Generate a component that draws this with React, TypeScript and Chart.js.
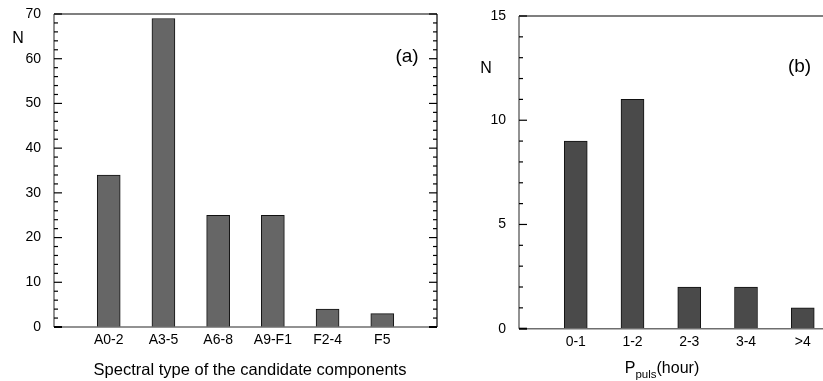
import React, { useEffect, useRef } from 'react';
import { Chart, registerables } from 'chart.js';

Chart.register(...registerables);

// ---- Data ----
const spectralCategories = ['A0-2', 'A3-5', 'A6-8', 'A9-F1', 'F2-4', 'F5'];
const spectralCounts = [34, 69, 25, 25, 4, 3];
const periodCategories = ['0-1', '1-2', '2-3', '3-4', '>4'];
const periodCounts = [9, 11, 2, 2, 1];

const leftYMax = 70;
const leftYMajor = 10;
const leftYMinor = 2;
const rightYMax = 15;
const rightYMajor = 5;
const rightYMinor = 1;

const FONT = '"Liberation Sans", Arial, Helvetica, sans-serif';

const framePlugin = {
  id: 'frame',
  afterDatasetsDraw(chart: any, _args: any, opts: any) {
    const { ctx, chartArea } = chart;
    const { left, right, top, bottom } = chartArea;
    const y = chart.scales.y;
    const line = (x1: number, y1: number, x2: number, y2: number) => {
      ctx.beginPath();
      ctx.moveTo(x1, y1);
      ctx.lineTo(x2, y2);
      ctx.stroke();
    };
    ctx.save();
    // frame
    ctx.strokeStyle = '#000';
    ctx.lineWidth = 1.2;
    line(left, top, right, top);
    line(right, top, right, bottom);
    ctx.strokeStyle = '#6e6e6e';
    ctx.lineWidth = 1.5;
    line(left, top, left, bottom);
    line(left, bottom, right, bottom);
    // ticks
    ctx.strokeStyle = '#000';
    const n = Math.round((y.max - y.min) / opts.minor);
    for (let i = 0; i <= n; i++) {
      const v = y.min + i * opts.minor;
      const py = y.getPixelForValue(v);
      const r = v / opts.major;
      const major = Math.abs(r - Math.round(r)) < 1e-6;
      const len = major ? 8 : 4;
      ctx.lineWidth = major && i === 0 ? 2 : 1.2;
      line(left, py, left + len, py);
      if (opts.rightTicks) line(right, py, right - len, py);
    }
    // labels
    ctx.fillStyle = '#000';
    ctx.textAlign = 'center';
    ctx.textBaseline = 'alphabetic';
    ctx.font = `16px ${FONT}`;
    ctx.fillText('N', opts.nX, opts.nY);
    ctx.font = `19px ${FONT}`;
    ctx.fillText(opts.panel, opts.panelX, opts.panelY);
    // axis title
    const parts = opts.title as { text: string; size: number; dy: number }[];
    let total = 0;
    for (const p of parts) {
      ctx.font = `${p.size}px ${FONT}`;
      total += ctx.measureText(p.text).width;
    }
    let x = opts.titleX - total / 2;
    ctx.textAlign = 'left';
    for (const p of parts) {
      ctx.font = `${p.size}px ${FONT}`;
      ctx.fillText(p.text, x, opts.titleY + p.dy);
      x += ctx.measureText(p.text).width;
    }
    ctx.restore();
  },
};

function makeConfig(
  categories: string[],
  counts: number[],
  color: string,
  yMax: number,
  yMajor: number,
  frame: any,
  layout: { top: number; right: number; yWidth: number; xHeight: number }
): any {
  const labels = ['', ...categories, ''];
  const data = [null, ...counts, null];
  return {
    type: 'bar',
    data: {
      labels,
      datasets: [
        {
          data,
          backgroundColor: color,
          borderColor: '#111',
          borderWidth: 1,
          barThickness: 23,
        },
      ],
    },
    options: {
      responsive: false,
      animation: false,
      devicePixelRatio: 1,
      layout: { padding: { top: layout.top, right: layout.right, left: 0, bottom: 0 } },
      plugins: {
        legend: { display: false },
        tooltip: { enabled: false },
        frame,
      },
      scales: {
        x: {
          type: 'category',
          offset: false,
          grid: { display: false, drawTicks: false },
          border: { display: false },
          ticks: {
            autoSkip: false,
            maxRotation: 0,
            minRotation: 0,
            padding: 5,
            color: '#000',
            font: { family: FONT, size: 14 },
          },
          afterFit: (s: any) => {
            s.height = layout.xHeight;
            s.paddingLeft = 0;
            s.paddingRight = 0;
          },
        },
        y: {
          min: 0,
          max: yMax,
          grid: { display: false, drawTicks: false },
          border: { display: false },
          ticks: {
            stepSize: yMajor,
            padding: 13,
            color: '#000',
            font: { family: FONT, size: 14 },
          },
          afterFit: (s: any) => {
            s.width = layout.yWidth;
            s.paddingTop = 0;
            s.paddingBottom = 0;
          },
        },
      },
    },
    plugins: [framePlugin],
  };
}

function Panel(props: { config: any; left: number; width: number; height: number }) {
  const ref = useRef<HTMLCanvasElement>(null);
  useEffect(() => {
    if (!ref.current) return;
    const chart = new Chart(ref.current, props.config);
    return () => chart.destroy();
  }, []);
  return (
    <canvas
      ref={ref}
      width={props.width}
      height={props.height}
      style={{ position: 'absolute', left: props.left, top: 0, width: props.width, height: props.height, display: 'block' }}
    />
  );
}

export default function App() {
  const leftConfig = makeConfig(
    spectralCategories,
    spectralCounts,
    '#666666',
    leftYMax,
    leftYMajor,
    {
      minor: leftYMinor,
      major: leftYMajor,
      rightTicks: true,
      nX: 18,
      nY: 43,
      panel: '(a)',
      panelX: 407,
      panelY: 62,
      titleX: 250,
      titleY: 375,
      title: [{ text: 'Spectral type of the candidate components', size: 16.5, dy: 0 }],
    },
    { top: 14, right: 3, yWidth: 54, xHeight: 54 }
  );
  const rightConfig = makeConfig(
    periodCategories,
    periodCounts,
    '#4a4a4a',
    rightYMax,
    rightYMajor,
    {
      minor: rightYMinor,
      major: rightYMajor,
      rightTicks: true,
      nX: 46,
      nY: 73,
      panel: '(b)',
      panelX: 359.5,
      panelY: 72,
      titleX: 222,
      titleY: 372.5,
      title: [
        { text: 'P', size: 16, dy: 0 },
        { text: 'puls', size: 11.5, dy: 5 },
        { text: '(hour)', size: 16, dy: 0 },
      ],
    },
    { top: 16, right: 20.5, yWidth: 79, xHeight: 52.3 }
  );
  return (
    <div
      style={{
        position: 'fixed',
        left: 0,
        top: 0,
        width: 823,
        height: 381,
        overflow: 'hidden',
        background: '#fff',
      }}
    >
      <Panel config={leftConfig} left={0} width={440} height={381} />
      <Panel config={rightConfig} left={440} width={440} height={381} />
    </div>
  );
}
